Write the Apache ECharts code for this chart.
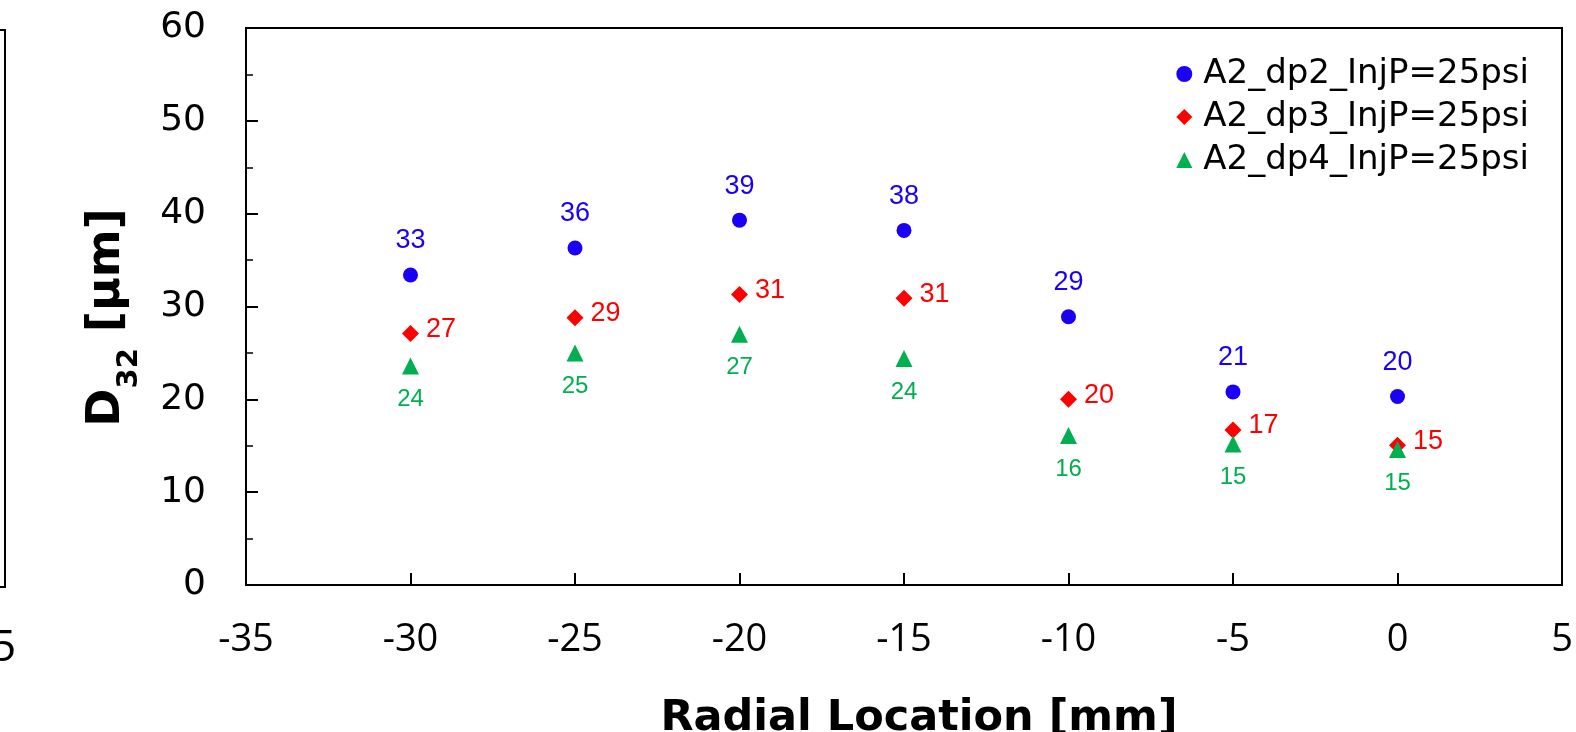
<!DOCTYPE html>
<html>
<head>
<meta charset="utf-8">
<script src="https://cdn.jsdelivr.net/npm/echarts@6/dist/echarts.min.js"></script>
<style>
  html, body { margin: 0; padding: 0; background: #fff; }
  #chart { width: 1576px; height: 732px; }
</style>
</head>
<body>
<div id="chart"></div>
<script>
	// radial positions [mm]
	const radial = [-30, -25, -20, -15, -10, -5, 0];
	// D32 [um] per injector dp
	const dp2 = [33.4, 36.3, 39.3, 38.2, 28.9, 20.8, 20.3];
	const dp3 = [27.1, 28.8, 31.3, 30.9, 20.0, 16.7, 15.05];
	const dp4 = [23.6, 25.0, 27.0, 24.4, 16.1, 15.2, 14.6];
	const names = ['A2_dp2_InjP=25psi', 'A2_dp3_InjP=25psi', 'A2_dp4_InjP=25psi'];

	const blue = '#1a00f5', red = '#ff0000', green = '#00b050';

	let chart = echarts.init(document.getElementById('chart'));

	function pts(ys) {
		return radial.map(function(x, i) { return [x, ys[i]]; });
	}
	function lbl(p) { return Math.round(p.value[1]); }

	option = {
		animation: false,
		grid: {
			left: 246, right: 14, top: 28, bottom: 147,
			outerBoundsMode: 'none',
			containLabel: false,
			show: true, borderColor: '#000', borderWidth: 2
		},
		// edge of the neighbouring panel cut off at the left border
		graphic: [
			{ type: 'polyline', shape: { points: [[0, 30], [5, 30], [5, 587], [0, 587]] }, style: { stroke: '#000', lineWidth: 2, fill: null } },
			{ type: 'text', left: -9, top: 626, style: { text: '5', fontFamily: 'Open Sans', fontSize: 44, fill: '#000' } }
		],
		legend: {
			orient: 'vertical',
			right: 42,
			top: 52,
			itemWidth: 16,
			itemHeight: 16,
			itemGap: 9,
			textStyle: { fontFamily: 'DejaVu Sans', fontSize: 34, color: '#000', lineHeight: 34, padding: [0, 0, 0, 6] },
			data: [
				{ name: names[0], icon: 'circle' },
				{ name: names[1], icon: 'diamond' },
				{ name: names[2], icon: 'triangle' }
			]
		},
		xAxis: {
			type: 'value',
			min: -35,
			max: 5,
			interval: 5,
			name: 'Radial Location [mm]',
			nameLocation: 'middle',
			nameGap: 112,
			nameTextStyle: { fontFamily: 'DejaVu Sans', fontWeight: 'bold', fontSize: 43, color: '#000', padding: [0, 0, 0, 30] },
			axisLine: { onZero: false, lineStyle: { color: '#000', width: 2 } },
			axisTick: { inside: true, length: 12, lineStyle: { color: '#000', width: 2 } },
			axisLabel: { color: '#000', fontFamily: 'Open Sans', fontSize: 38, margin: 36 },
			splitLine: { show: false }
		},
		yAxis: {
			type: 'value',
			min: 0,
			max: 60,
			interval: 10,
			name: '{b|D}{s|32}{b| [µm]}',
			nameLocation: 'middle',
			nameGap: 102,
			nameTextStyle: {
				padding: [0, 22, 0, 0],
				rich: {
					b: { fontFamily: 'DejaVu Sans', fontWeight: 'bold', fontSize: 46, color: '#000', lineHeight: 60, verticalAlign: 'top' },
					s: { fontFamily: 'DejaVu Sans', fontWeight: 'bold', fontSize: 29, color: '#000', lineHeight: 29, verticalAlign: 'bottom' }
				}
			},
			axisLine: { show: true, onZero: false, lineStyle: { color: '#000', width: 2 } },
			axisTick: { inside: true, length: 12, lineStyle: { color: '#000', width: 2 } },
			minorTick: { show: true, splitNumber: 2, length: 7, lineStyle: { color: '#000', width: 1.5 } },
			axisLabel: { color: '#000', fontFamily: 'DejaVu Sans', fontSize: 36, margin: 40 },
			splitLine: { show: false }
		},
		series: [
			{
				name: names[0],
				type: 'scatter',
				symbol: 'circle',
				symbolSize: 15,
				itemStyle: { color: blue, opacity: 1 },
				label: {
					show: true, position: 'top', distance: 13,
					color: blue, fontFamily: 'Liberation Sans', fontSize: 27,
					formatter: lbl
				},
				data: pts(dp2)
			},
			{
				name: names[1],
				type: 'scatter',
				symbol: 'diamond',
				symbolSize: 17,
				itemStyle: { color: red, opacity: 1 },
				label: {
					show: true, position: 'right', distance: 7, offset: [0, -4],
					color: red, fontFamily: 'Liberation Sans', fontSize: 27,
					formatter: lbl
				},
				data: pts(dp3)
			},
			{
				name: names[2],
				type: 'scatter',
				symbol: 'triangle',
				symbolSize: 17,
				itemStyle: { color: green, opacity: 1 },
				label: {
					show: true, position: 'bottom', distance: 13,
					color: green, fontFamily: 'Liberation Sans', fontSize: 24,
					formatter: lbl
				},
				data: pts(dp4)
			}
		]
	};

	chart.setOption(option);
</script>
</body>
</html>
